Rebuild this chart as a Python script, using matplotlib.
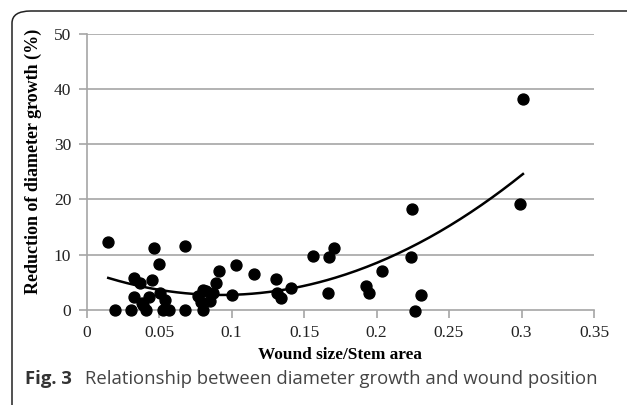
import numpy as np
import matplotlib.pyplot as plt
from matplotlib.patches import FancyBboxPatch

# wound size / stem area vs reduction of diameter growth (%)
wound_ratio = [0.015, 0.0196, 0.0304, 0.0327, 0.0369, 0.0327, 0.0387, 0.038, 0.041,
               0.0433, 0.0454, 0.0465, 0.0502, 0.0507, 0.0541, 0.053, 0.057, 0.068,
               0.068, 0.080, 0.077, 0.080, 0.0824, 0.0787, 0.085, 0.0874, 0.0892,
               0.0915, 0.1003, 0.1028, 0.1154, 0.131, 0.1315, 0.134, 0.141, 0.156,
               0.167, 0.1706, 0.1667, 0.193, 0.195, 0.204, 0.2245, 0.2237, 0.231,
               0.2264, 0.301, 0.299]
growth_reduction = [12.35, 0.0, 0.0, 5.7, 4.8, 2.4, 0.9, 1.3, 0.0,
                    2.4, 5.5, 11.2, 8.3, 3.0, 1.8, 0.0, 0.0, 11.5,
                    0.0, 0.0, 2.5, 3.6, 3.5, 1.5, 1.7, 3.0, 4.8,
                    7.0, 2.8, 8.2, 6.6, 5.6, 3.0, 2.1, 4.0, 9.8,
                    9.6, 11.3, 3.0, 4.3, 3.0, 7.1, 18.2, 9.6, 2.8,
                    -0.2, 38.2, 19.2]

x_ticks = [0, 0.05, 0.1, 0.15, 0.2, 0.25, 0.3, 0.35]
x_labels = ['0', '0.05', '0.1', '0.15', '0.2', '0.25', '0.3', '0.35']
y_ticks = [0, 10, 20, 30, 40, 50]

fig = plt.figure(figsize=(6.27, 4.05), dpi=100)
fig.patch.set_facecolor('white')

# rounded frame round the figure
frame = FancyBboxPatch((12 / 627, -0.2), 1.2, 1.2 - 11 / 405,
                       boxstyle='round,pad=0,rounding_size=0.03',
                       transform=fig.transFigure, fill=False,
                       edgecolor='#222222', linewidth=1.1)
fig.patches.append(frame)

ax = fig.add_axes([86.5 / 627, 1 - 310 / 405, (594 - 86.5) / 627, (310 - 33.5) / 405])
ax.scatter(wound_ratio, growth_reduction, s=62, color='black', zorder=3, clip_on=False)

# second order trend line
coef = np.polyfit(wound_ratio, growth_reduction, 2)
xs = np.linspace(min(wound_ratio), max(wound_ratio), 200)
ax.plot(xs, np.polyval(coef, xs), color='black', linewidth=1.8, zorder=2)

ax.set_xlim(0, 0.35)
ax.set_ylim(0, 50)
ax.set_xticks(x_ticks)
ax.set_xticklabels(x_labels)
ax.set_yticks(y_ticks)
for v in y_ticks[1:]:
    ax.axhline(v, color='#a6a6a6', linewidth=1.2, zorder=1)

for s in ['top', 'right']:
    ax.spines[s].set_visible(False)
for s in ['left', 'bottom']:
    ax.spines[s].set_color('#a6a6a6')
    ax.spines[s].set_linewidth(1.2)
ax.tick_params(axis='both', colors='#a6a6a6', length=6, width=1.2, direction='out',
               labelcolor='#222222', labelsize=12.5, pad=5)
for lab in ax.get_xticklabels() + ax.get_yticklabels():
    lab.set_family('Liberation Serif')

ax.set_xlabel('Wound size/Stem area', family='Liberation Serif', fontweight='bold',
              fontsize=12.4, color='black', labelpad=4)
ax.set_ylabel('Reduction of diameter growth (%)', family='Liberation Serif',
              fontweight='bold', fontsize=13.0, color='black')
ax.yaxis.set_label_coords(-0.088, 0.539)

fig.text(25 / 627, 1 - 384 / 405, 'Fig. 3', family='Open Sans', fontweight='bold',
         fontsize=13.3, color='#333333')
fig.text(85 / 627, 1 - 384 / 405, 'Relationship between diameter growth and wound position',
         family='Open Sans', fontsize=13.3, color='#444444')

fig.savefig('out.png', dpi=100)
